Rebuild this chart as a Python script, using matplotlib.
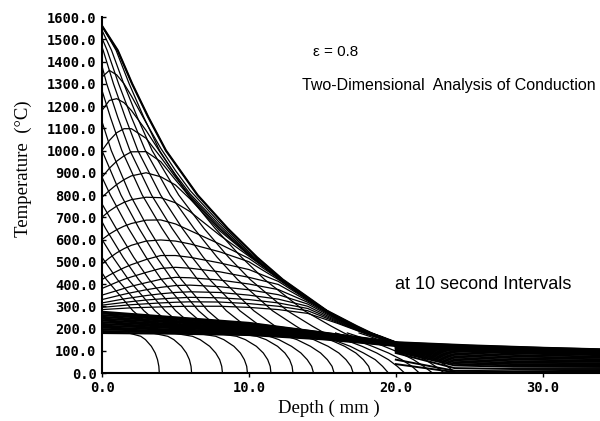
import numpy as np
import matplotlib
matplotlib.use("Agg")
import matplotlib.pyplot as plt
from matplotlib.ticker import FormatStrFormatter

nan = np.nan

# --------- Data ---------

# heating profiles, upper part: surface temperature, then depth (mm) at each level
heat_levels = [1450, 1300, 1150, 1000, 800, 650, 520, 420, 350, 280, 210, 180, 150, 130]
heat_surface = [450, 520, 600, 680, 760, 880, 1000, 1130, 1270, 1380, 1465, 1505, 1540, 1560, 1560]
heat_depths = [
    [nan, nan, nan, nan, nan, nan, nan, 0.30, 1.20, 2.10, 3.33, nan, nan, nan],
    [nan, nan, nan, nan, nan, nan, nan, 1.05, 1.95, 2.85, 4.08, nan, nan, nan],
    [nan, nan, nan, nan, nan, nan, 0.75, 1.80, 2.70, 3.60, 4.83, nan, nan, nan],
    [nan, nan, nan, nan, nan, 0.24, 1.44, 2.49, 3.39, 4.29, 5.52, nan, nan, nan],
    [nan, nan, nan, nan, nan, 0.96, 2.16, 3.21, 4.11, 5.01, 6.24, nan, nan, nan],
    [nan, nan, nan, nan, 0.57, 1.80, 3.00, 4.05, 4.95, 5.85, 7.08, nan, nan, nan],
    [nan, nan, nan, nan, 1.29, 2.52, 3.72, 4.77, 5.67, 6.57, 7.80, nan, nan, nan],
    [nan, nan, nan, 0.63, 1.92, 3.15, 4.35, 5.40, 6.30, 7.20, 8.43, nan, nan, nan],
    [nan, nan, 0.57, 1.35, 2.74, 4.08, 5.38, 6.51, 7.49, 8.46, 9.79, nan, nan, nan],
    [nan, 0.32, 1.07, 1.90, 3.37, 4.77, 6.14, 7.33, 8.36, 9.38, 10.79, nan, nan, nan],
    [0.08, 0.78, 1.58, 2.44, 3.99, 5.47, 6.90, 8.16, 9.23, 10.33, 11.80, 12.49, nan, nan],
    [0.35, 1.13, 2.00, 2.95, 4.64, 6.26, 7.84, 9.23, 10.41, 11.60, 13.22, 13.97, nan, nan],
    [0.65, 1.48, 2.40, 3.41, 5.22, 6.94, 8.62, 10.09, 11.35, 12.61, 14.33, 15.13, 16.05, nan],
    [0.96, 1.85, 2.84, 3.92, 5.85, 7.70, 9.50, 11.07, 12.42, 13.77, 15.62, 16.47, 17.46, nan],
    [1.07, 2.05, 3.15, 4.35, 6.50, 8.55, 10.55, 12.30, 13.80, 15.30, 17.35, 18.30, 19.40, 20.30],
]

# heating profiles, lower part below the dark band
low_levels = [180, 165, 150, 120, 90, 60, 30, 0]
low_depths = [
    [1.8, 2.64, 2.96, 3.36, 3.62, 3.78, 3.87, 3.9],
    [3.4, 4.48, 4.89, 5.41, 5.74, 5.95, 6.06, 6.1],
    [4.8, 6.16, 6.68, 7.33, 7.74, 8.01, 8.15, 8.2],
    [6.3, 7.74, 8.29, 8.98, 9.42, 9.69, 9.85, 9.9],
    [7.6, 9.16, 9.76, 10.51, 10.98, 11.28, 11.45, 11.5],
    [8.9, 10.54, 11.17, 11.95, 12.45, 12.77, 12.94, 13.0],
    [10.1, 11.39, 12.04, 12.9, 13.54, 13.97, 14.27, 14.4],
    [11.2, 12.58, 13.27, 14.19, 14.88, 15.34, 15.66, 15.8],
    [12.2, 13.67, 14.41, 15.39, 16.12, 16.61, 16.95, 17.1],
    [13.2, 14.73, 15.5, 16.52, 17.28, 17.79, 18.15, 18.3],
    [14.1, 15.0, 15.7, 16.9, 17.8, 18.6, 19.1, 19.5],
    [15.0, 15.8, 16.5, 17.7, 18.7, 19.5, 20.1, 20.6],
    [15.9, 16.6, 17.2, 18.4, 19.5, 20.4, 21.1, 21.6],
    [16.7, 17.4, 18.0, 19.2, 20.3, 21.2, 21.9, 22.5],
    [17.5, 18.2, 18.8, 20.0, 21.1, 22.0, 22.7, 23.3],
    [18.3, 19.0, 19.6, 20.8, 21.9, 22.8, 23.5, 24.1],
]

# cooling profiles (arches): temperature at each depth
arch_depths = [0, 0.5, 1, 1.5, 2, 3, 4, 5, 6, 8, 10, 12, 14, 16, 18, 20, 24, 34]
arch_temps = [
    [1330, 1360, 1340, 1300, 1245, 1125, 1010, 910, 820, 676, 544, 428, 334, 251, 187, 138, 117, 104],
    [1180, 1225, 1233, 1215, 1180, 1090, 988, 892, 805, 665, 538, 425, 332, 250, 186, 137, 116, 103],
    [1000, 1045, 1080, 1098, 1098, 1055, 970, 880, 797, 655, 534, 426, 333, 250, 186, 137, 116, 103],
    [880, 920, 952, 976, 994, 995, 950, 868, 790, 648, 532, 428, 334, 250, 186, 137, 116, 103],
    [790, 820, 847, 869, 886, 900, 882, 845, 782, 640, 530, 430, 335, 251, 187, 137, 116, 103],
    [700, 728, 750, 767, 779, 790, 788, 765, 725, 620, 525, 428, 334, 251, 187, 137, 116, 103],
    [600, 624, 644, 660, 672, 687, 688, 670, 640, 580, 515, 425, 333, 250, 186, 137, 116, 103],
    [490, 517, 540, 559, 574, 593, 598, 593, 580, 545, 500, 420, 330, 249, 185, 136, 116, 103],
    [420, 440, 457, 473, 487, 510, 528, 528, 520, 495, 465, 412, 328, 247, 184, 136, 116, 103],
    [380, 394, 408, 421, 432, 452, 470, 475, 471, 455, 430, 398, 324, 245, 183, 135, 115, 103],
    [350, 360, 370, 380, 390, 406, 421, 430, 428, 418, 400, 375, 318, 243, 182, 135, 115, 102],
    [330, 338, 346, 354, 361, 374, 385, 393, 395, 388, 374, 352, 310, 240, 181, 134, 114, 102],
    [315, 321, 327, 333, 338, 348, 356, 362, 365, 362, 350, 332, 300, 236, 180, 134, 114, 102],
    [305, 309, 313, 317, 321, 328, 333, 337, 340, 338, 330, 315, 290, 232, 178, 133, 113, 101],
    [295, 298, 301, 304, 307, 311, 315, 318, 320, 319, 312, 300, 280, 228, 176, 132, 113, 101],
    [285, 287, 289, 291, 293, 295, 297, 299, 300, 300, 295, 285, 268, 224, 175, 131, 112, 101],
]

# late, nearly uniform profiles forming the dark band
band_depths = [0, 5, 10, 15, 20, 25, 30, 34]
band_temps = [
    [180, 177, 171, 152, 122, 100, 90, 85],
    [188, 183, 176, 156, 124, 102, 92, 87],
    [196, 189, 181, 159, 125, 104, 94, 88],
    [204, 195, 186, 162, 126, 106, 96, 90],
    [212, 202, 191, 165, 127, 108, 98, 91],
    [220, 208, 196, 168, 128, 110, 100, 93],
    [228, 214, 201, 170, 130, 112, 102, 95],
    [236, 220, 206, 172, 131, 114, 104, 97],
    [244, 227, 211, 175, 132, 116, 106, 99],
    [252, 233, 215, 177, 134, 118, 108, 101],
    [260, 240, 219, 179, 135, 120, 110, 103],
    [268, 245, 222, 181, 136, 122, 112, 105],
    [275, 250, 225, 182, 138, 124, 113, 106],
]

# deep tails beyond 20 mm
deep_depths = [20, 24, 28, 34]
deep_temps = [
    [122, 104, 95, 86],
    [121, 97, 88, 80],
    [120, 90, 81, 74],
    [118, 83, 74, 68],
    [116, 76, 67, 62],
    [114, 69, 60, 56],
    [111, 62, 53, 50],
    [108, 55, 46, 44],
    [104, 48, 40, 38],
    [100, 41, 34, 32],
    [96, 34, 28, 27],
    [90, 22, 18, 18],
    [60, 10, 8, 10],
    [40, 4, 4, 6],
]

y_ticks = list(range(0, 1700, 100))
x_ticks = [0, 10, 20, 30]

# --------- Plotting ---------

fig = plt.figure(figsize=(6, 4.21), dpi=100)
ax = fig.add_axes([0.17, 0.114, 0.83, 0.8456])

levels = np.array(heat_levels, dtype=float)
for ts, row in zip(heat_surface, heat_depths):
    row = np.array(row, dtype=float)
    keep = ~np.isnan(row)
    xs = np.concatenate([[0.0], row[keep]])
    ts_ = np.concatenate([[ts], levels[keep]])
    ax.plot(xs, ts_, color="black", lw=0.9)
# outermost heating profile is drawn heavier
row = np.array(heat_depths[-1], dtype=float)
ax.plot(np.concatenate([[0.0], row]), np.concatenate([[heat_surface[-1]], levels]),
        color="black", lw=1.6)

for row in low_depths:
    ax.plot(row, low_levels, color="black", lw=0.9)

for row in arch_temps:
    ax.plot(arch_depths, row, color="black", lw=0.9)

for row in band_temps:
    ax.plot(band_depths, row, color="black", lw=1.6)

for row in deep_temps:
    ax.plot(deep_depths, row, color="black", lw=1.4)

ax.set_xlim(0, 33.9)
ax.set_ylim(0, 1600)
ax.spines["top"].set_visible(False)
ax.spines["right"].set_visible(False)
ax.spines["left"].set_linewidth(1.5)
ax.spines["bottom"].set_linewidth(1.5)

ax.set_yticks(y_ticks)
ax.set_xticks(x_ticks)
ax.yaxis.set_major_formatter(FormatStrFormatter("%.1f"))
ax.xaxis.set_major_formatter(FormatStrFormatter("%.1f"))
ax.tick_params(axis="y", direction="in", length=3, width=1, pad=4)
ax.tick_params(axis="x", direction="out", length=3, width=1, pad=3)
for lab in ax.get_xticklabels() + ax.get_yticklabels():
    lab.set_family("DejaVu Sans Mono")
    lab.set_fontweight("bold")
    lab.set_fontsize(9.8)

ax.set_ylabel("Temperature  (°C)", family="Liberation Serif", fontsize=13.5)
ax.yaxis.set_label_coords(-0.14, 0.573)
ax.set_xlabel("Depth ( mm )", family="Liberation Serif", fontsize=13.5)
ax.xaxis.set_label_coords(0.456, -0.075)

ax.text(14.35, 1443, "ε = 0.8", family="Liberation Sans", fontsize=11, va="center")
ax.text(13.6, 1290, "Two-Dimensional  Analysis of Conduction",
        family="Liberation Sans", fontsize=11.5, va="center")
ax.text(19.93, 400, "at 10 second Intervals", family="Liberation Sans",
        fontsize=13, va="center")

fig.savefig("out.png", dpi=100)
